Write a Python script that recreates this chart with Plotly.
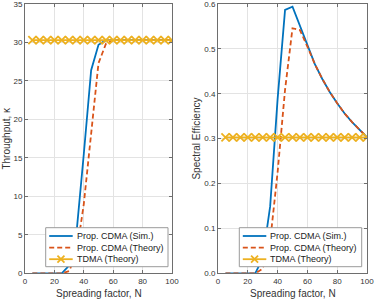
import plotly.graph_objects as go

# ---------------- data ----------------
N = [5, 10, 15, 20, 25, 30, 35, 40, 45, 50, 55, 60, 65, 70, 75, 80, 85, 90, 95, 100]

thr_sim = [0, 0, 0, 0, 0, 1.0, 5.2, 15.5, 26.4, 29.7, 30.3, 30.3, 30.3, 30.3, 30.3,
           30.3, 30.3, 30.3, 30.3, 30.3]
thr_theory = [0, 0, 0, 0, 0, 0.3, 2.5, 9.0, 18.4, 27.3, 29.8, 30.3, 30.3, 30.3, 30.3,
              30.3, 30.3, 30.3, 30.3, 30.3]
thr_tdma = [30.3, 30.3, 30.3, 30.3, 30.3, 30.3, 30.3, 30.3, 30.3, 30.3, 30.3, 30.3,
            30.3, 30.3, 30.3, 30.3, 30.3, 30.3, 30.3, 30.3]

se_sim = [0, 0, 0, 0, 0, 0.033, 0.149, 0.388, 0.587, 0.594, 0.551, 0.505, 0.466,
          0.433, 0.404, 0.379, 0.356, 0.337, 0.319, 0.303]
se_theory = [0, 0, 0, 0, 0, 0.010, 0.071, 0.225, 0.409, 0.546, 0.542, 0.505, 0.466,
             0.433, 0.404, 0.379, 0.356, 0.337, 0.319, 0.303]
se_tdma = [0.303, 0.303, 0.303, 0.303, 0.303, 0.303, 0.303, 0.303, 0.303, 0.303,
           0.303, 0.303, 0.303, 0.303, 0.303, 0.303, 0.303, 0.303, 0.303, 0.303]

names = ["Prop. CDMA (Sim.)", "Prop. CDMA (Theory)", "TDMA (Theory)"]
x_ticks = [0, 20, 40, 60, 80, 100]
thr_ticks = [0, 5, 10, 15, 20, 25, 30, 35]
se_ticks = [0, 0.1, 0.2, 0.3, 0.4, 0.5, 0.6]
x_title = "Spreading factor, N"
thr_title = "Throughput, \u03ba"
se_title = "Spectral Efficiency"

# ---------------- styling ----------------
W, H = 374, 301
BLUE, ORANGE, YELLOW = "#0072BD", "#D95319", "#EDB120"
FONT = "Liberation Sans, Arial, Helvetica, sans-serif"
TXT = "#333333"
DASH = "5px,3px"


def px(x):
    return x / W


def py(y):
    return 1 - y / H


fig = go.Figure()


def add_series(xa, ya, sim, theo, tdma):
    fig.add_trace(go.Scatter(x=N, y=sim, name=names[0], mode="lines",
                             line=dict(color=BLUE, width=1.8),
                             xaxis=xa, yaxis=ya, showlegend=False))
    fig.add_trace(go.Scatter(x=N, y=theo, name=names[1], mode="lines",
                             line=dict(color=ORANGE, width=1.8, dash=DASH),
                             xaxis=xa, yaxis=ya, showlegend=False))
    fig.add_trace(go.Scatter(x=N, y=tdma, name=names[2], mode="lines+markers",
                             line=dict(color=YELLOW, width=1.8),
                             marker=dict(symbol="x-thin-open", size=8,
                                         line=dict(color=YELLOW, width=1.8)),
                             xaxis=xa, yaxis=ya, showlegend=False))


add_series("x", "y", thr_sim, thr_theory, thr_tdma)
add_series("x2", "y2", se_sim, se_theory, se_tdma)

axis_common = dict(showgrid=True, gridcolor="#e3e3e3", gridwidth=1,
                   showline=True, linecolor="#6e6e6e", linewidth=1,
                   mirror="ticks", ticks="inside", ticklen=3, tickcolor="#6e6e6e",
                   tickfont=dict(family=FONT, size=8, color=TXT),
                   ticklabeloverflow="allow",
                   zeroline=False, automargin=False, fixedrange=True)

y_bot, y_top = py(273.3), py(4)

fig.update_layout(
    width=W, height=H,
    margin=dict(l=0, r=0, t=0, b=0),
    paper_bgcolor="white", plot_bgcolor="white",
    font=dict(family=FONT, size=8, color=TXT),
    showlegend=False,
    xaxis=dict(domain=[px(25), px(172)], range=[0, 100], tickvals=x_ticks,
               anchor="y", **axis_common),
    yaxis=dict(domain=[y_bot, y_top], range=[0, 35], tickvals=thr_ticks,
               anchor="x", **axis_common),
    xaxis2=dict(domain=[px(218), px(367)], range=[0, 100], tickvals=x_ticks,
                anchor="y2", **axis_common),
    yaxis2=dict(domain=[y_bot, y_top], range=[0, 0.6], tickvals=se_ticks,
                tickformat=".1f", anchor="x2", **axis_common),
)

ann = dict(xref="paper", yref="paper", showarrow=False,
           xanchor="center", yanchor="middle",
           font=dict(family=FONT, size=10, color=TXT))
fig.add_annotation(text=x_title, x=px(98.5), y=py(293.5), **ann)
fig.add_annotation(text=x_title, x=px(292.5), y=py(293.5), **ann)
fig.add_annotation(text=thr_title, x=px(7), y=py(138.6), textangle=-90, **ann)
fig.add_annotation(text=se_title, x=px(197), y=py(138.6), textangle=-90, **ann)


# ---------------- compact MATLAB-like legends ----------------
def legend_box(x0, x1, y0, y1):
    fig.add_shape(type="rect", xref="paper", yref="paper",
                  x0=px(x0), x1=px(x1), y0=py(y1), y1=py(y0),
                  line=dict(color="#9a9a9a", width=1), fillcolor="white",
                  layer="above")
    rows = [236, 247.6, 259.2]
    styles = [dict(color=BLUE, width=1.8),
              dict(color=ORANGE, width=1.8, dash=DASH),
              dict(color=YELLOW, width=1.8)]
    s0, s1 = x0 + 3.5, x0 + 27
    for i, (ry, st) in enumerate(zip(rows, styles)):
        fig.add_shape(type="line", xref="paper", yref="paper",
                      x0=px(s0), x1=px(s1), y0=py(ry), y1=py(ry),
                      line=st, layer="above")
        fig.add_annotation(text=names[i], xref="paper", yref="paper",
                           x=px(x0 + 29), y=py(ry), xanchor="left",
                           yanchor="middle", showarrow=False,
                           font=dict(family=FONT, size=9, color="#222"))
    cx, cy, r = (s0 + s1) / 2, rows[2], 3.5
    for dy in (r, -r):
        fig.add_shape(type="line", xref="paper", yref="paper",
                      x0=px(cx - r), x1=px(cx + r), y0=py(cy - dy), y1=py(cy + dy),
                      line=dict(color=YELLOW, width=1.8), layer="above")


legend_box(45.7, 168, 227.7, 266.7)
legend_box(239.3, 361.7, 227.7, 266.7)

fig.write_html("out.html", config={"displayModeBar": False},
               post_script="document.body.style.margin='0';")
